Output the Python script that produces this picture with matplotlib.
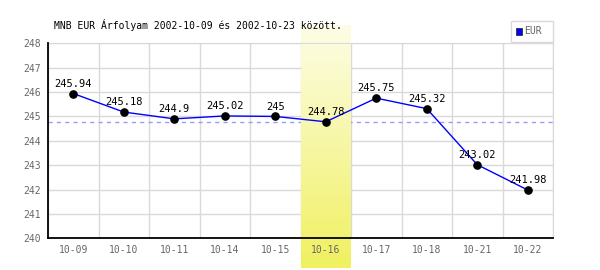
import numpy as np
import matplotlib.pyplot as plt
from matplotlib.patches import Rectangle
from matplotlib import transforms

# MNB EUR rates
dates = ['10-09', '10-10', '10-11', '10-14', '10-15', '10-16', '10-17', '10-18', '10-21', '10-22']
rates = [245.94, 245.18, 244.9, 245.02, 245.0, 244.78, 245.75, 245.32, 243.02, 241.98]
value_labels = ['245.94', '245.18', '244.9', '245.02', '245', '244.78', '245.75', '245.32', '243.02', '241.98']
ref_level = 244.78
highlight_idx = 5
y_ticks = [240, 241, 242, 243, 244, 245, 246, 247, 248]

mono = 'DejaVu Sans Mono'
grey = '#666666'
grid_c = '#d9d9d9'

fig = plt.figure(figsize=(6, 2.7), dpi=100)
ax = fig.add_axes([48 / 600, 1 - 238.3 / 270, 505 / 600, 195 / 270])

x = np.arange(len(dates))
ax.set_xlim(-0.5, len(dates) - 0.5)
ax.set_ylim(y_ticks[0], y_ticks[-1])

# grid drawn by hand so the band can cover it while tick labels stay on top
ax.set_axisbelow(False)
for t in y_ticks:
    ax.axhline(t, color=grid_c, lw=1, zorder=0.5)
for b in np.arange(len(dates) + 1) - 0.5:
    ax.axvline(b, color=grid_c, lw=1, zorder=0.5)

ax.set_yticks(y_ticks)
ax.set_xticks(x)
ax.tick_params(which='both', length=0)
ax.set_xticklabels(dates, fontfamily=mono, fontsize=7, color=grey)
ax.set_yticklabels([str(t) for t in y_ticks], fontfamily=mono, fontsize=7, color=grey)
ax.tick_params(axis='x', pad=5)
ax.tick_params(axis='y', pad=5)

for s in ['top', 'right']:
    ax.spines[s].set_color(grid_c)
for s in ['left', 'bottom']:
    ax.spines[s].set_color('black')
    ax.spines[s].set_linewidth(1.3)
    ax.spines[s].set_zorder(5)

# reference dashed line
ax.axhline(ref_level, color='#9a9aff', lw=1, ls=(0, (3, 3)), zorder=1)

# highlighted day: gradient band spanning nearly full figure height
trans = transforms.blended_transform_factory(ax.transData, fig.transFigure)
y0, y1 = 2 / 270, 245 / 270
n = 60
c_top = np.array([0.99, 0.99, 0.90])
c_bot = np.array([0.94, 0.94, 0.38])
for i in range(n):
    f = i / (n - 1)
    c = c_bot * (1 - f) + c_top * f
    ax.add_patch(Rectangle((highlight_idx - 0.5, y0 + (y1 - y0) * i / n), 1, (y1 - y0) / n + 0.001,
                           transform=trans, facecolor=c, edgecolor='none', clip_on=False, zorder=1.5))

ax.plot(x, rates, color='blue', lw=1, zorder=3)
ax.plot(x, rates, 'o', color='black', ms=5.2, zorder=4)

for xi, yi, lab in zip(x, rates, value_labels):
    ax.annotate(lab, (xi, yi), xytext=(0, 3.5), textcoords='offset points',
                ha='center', va='bottom', fontfamily=mono, fontsize=7.5, color='black', zorder=6)

fig.text(54 / 600, 1 - 25 / 270, 'MNB EUR Árfolyam 2002-10-09 és 2002-10-23 között.',
         fontfamily=mono, fontsize=7, color='black', va='center', ha='left')

# legend box
fig.patches.append(Rectangle((511 / 600, 1 - 41.5 / 270), 42 / 600, 20.5 / 270, transform=fig.transFigure,
                             facecolor='white', edgecolor=grid_c, lw=1))
fig.patches.append(Rectangle((515.5 / 600, 1 - 34.5 / 270), 6 / 600, 6 / 270, transform=fig.transFigure,
                             facecolor='blue', edgecolor='#333333', lw=0.6))
fig.text(524 / 600, 1 - 31.5 / 270, 'EUR', fontfamily=mono, fontsize=7, color=grey, va='center', ha='left')

fig.savefig('out.png', dpi=100)
